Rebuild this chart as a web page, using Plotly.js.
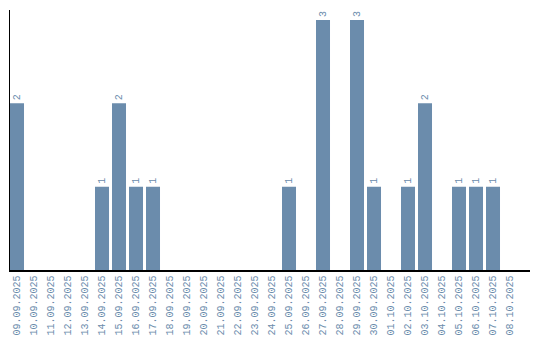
<!DOCTYPE html>
<html><head><meta charset="utf-8">
<script src="https://cdn.plot.ly/plotly-3.0.1.min.js"></script>
<style>html,body{margin:0;padding:0;background:#fff}</style>
</head><body>
<div id="chart" style="width:540px;height:340px"></div>
<script>
const dates = ["09.09.2025","10.09.2025","11.09.2025","12.09.2025","13.09.2025","14.09.2025","15.09.2025","16.09.2025","17.09.2025","18.09.2025","19.09.2025","20.09.2025","21.09.2025","22.09.2025","23.09.2025","24.09.2025","25.09.2025","26.09.2025","27.09.2025","28.09.2025","29.09.2025","30.09.2025","01.10.2025","02.10.2025","03.10.2025","04.10.2025","05.10.2025","06.10.2025","07.10.2025","08.10.2025"];
const counts = [2,0,0,0,0,1,2,1,1,0,0,0,0,0,0,0,1,0,3,0,3,1,0,1,2,0,1,1,1,0];
const labels = counts.map(v => v > 0 ? String(v) : "");
const col = "#6b8cac";
Plotly.newPlot("chart", [{
  type: "bar", x: dates, y: counts, text: labels,
  textposition: "outside", textangle: -90, cliponaxis: false,
  textfont: {family: "Liberation Mono", size: 10, color: col},
  marker: {color: col}, hoverinfo: "none"
}], {
  width: 540, height: 340,
  margin: {l: 10, r: 10, t: 10, b: 70},
  paper_bgcolor: "#fff", plot_bgcolor: "#fff",
  bargap: 0.176, showlegend: false,
  xaxis: {type: "category", range: [-0.412, 30.176], tickangle: -90,
    showline: true, linecolor: "#000", linewidth: 1.5, ticks: "", showgrid: false, zeroline: false,
    tickfont: {family: "Liberation Mono", size: 10, color: col}},
  yaxis: {range: [0, 3.12], showline: true, linecolor: "#000", linewidth: 1.5,
    showticklabels: false, ticks: "", showgrid: false, zeroline: false}
}, {displayModeBar: false, staticPlot: true});
</script>
</body></html>
